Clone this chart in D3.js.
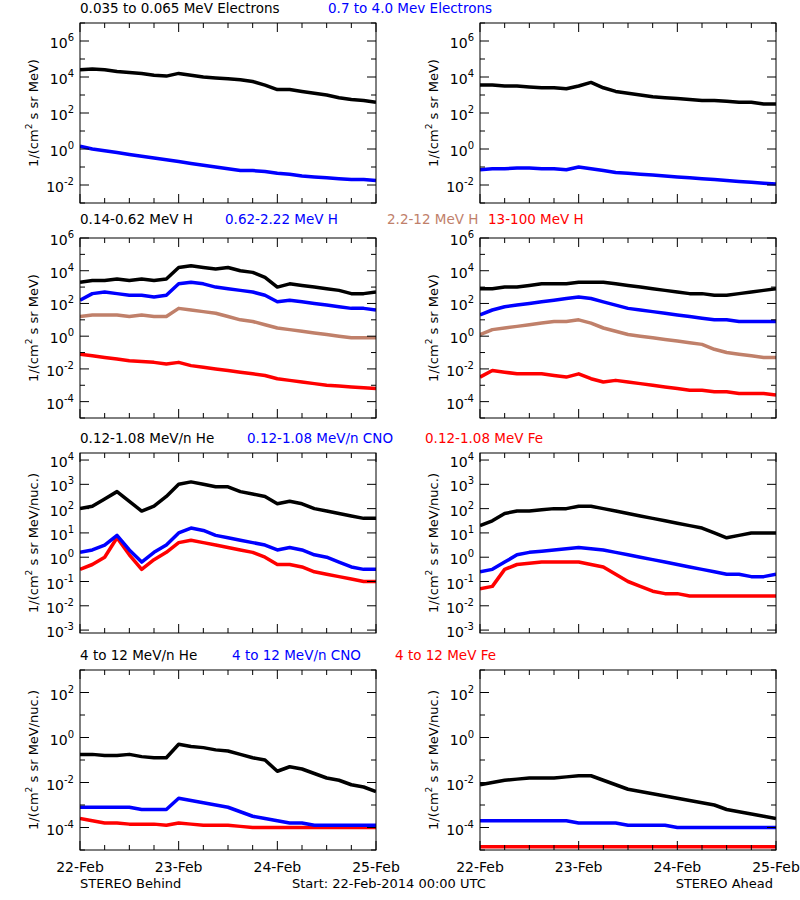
<!DOCTYPE html>
<html><head><meta charset="utf-8">
<script src="https://cdn.jsdelivr.net/npm/d3@7"></script>
<style>body{margin:0;background:#fff}text{font-family:"DejaVu Sans",sans-serif;font-size:13px}</style>
</head><body><svg id="c" width="800" height="900"></svg>
<script>
// time in hours since 22-Feb-2014 00:00, samples every 3 hours
const hours = d3.range(0, 73, 3);
const dayLabels = ["22-Feb","23-Feb","24-Feb","25-Feb"];
const BROWN = "#c0806a";
// log10 values of flux
const bE1 = [4.4,4.45,4.4,4.3,4.25,4.2,4.1,4.05,4.2,4.1,4.0,3.95,3.9,3.85,3.75,3.55,3.3,3.3,3.2,3.1,3.0,2.85,2.75,2.7,2.6];
const bE2 = [0.15,0.0,-0.1,-0.2,-0.3,-0.4,-0.5,-0.6,-0.7,-0.8,-0.9,-1.0,-1.1,-1.2,-1.2,-1.25,-1.35,-1.4,-1.5,-1.55,-1.6,-1.65,-1.7,-1.7,-1.75];
const aE1 = [3.55,3.55,3.5,3.5,3.45,3.4,3.4,3.35,3.5,3.7,3.4,3.2,3.1,3.0,2.9,2.85,2.8,2.75,2.7,2.7,2.65,2.6,2.6,2.5,2.5];
const aE2 = [-1.15,-1.1,-1.1,-1.05,-1.05,-1.1,-1.1,-1.15,-1.0,-1.1,-1.2,-1.3,-1.35,-1.4,-1.45,-1.5,-1.55,-1.6,-1.65,-1.7,-1.75,-1.8,-1.85,-1.9,-1.95];
const bH1 = [3.3,3.4,3.4,3.5,3.4,3.5,3.4,3.5,4.2,4.3,4.2,4.1,4.2,4.0,3.9,3.6,3.0,3.2,3.1,3.0,2.9,2.8,2.6,2.6,2.7];
const bH2 = [2.2,2.6,2.7,2.6,2.5,2.5,2.4,2.5,3.2,3.3,3.2,3.0,2.9,2.8,2.7,2.5,2.1,2.2,2.1,2.0,1.9,1.8,1.7,1.7,1.6];
const bH3 = [1.2,1.3,1.3,1.3,1.2,1.3,1.2,1.2,1.7,1.6,1.5,1.4,1.2,1.0,0.9,0.7,0.5,0.4,0.3,0.2,0.1,0.0,-0.1,-0.1,-0.1];
const bH4 = [-1.1,-1.2,-1.3,-1.4,-1.5,-1.55,-1.6,-1.7,-1.6,-1.8,-1.9,-2.0,-2.1,-2.2,-2.3,-2.4,-2.6,-2.7,-2.8,-2.9,-3.0,-3.05,-3.1,-3.15,-3.2];
const aH1 = [2.9,2.9,3.0,3.0,3.1,3.2,3.2,3.2,3.3,3.3,3.3,3.2,3.1,3.0,2.9,2.8,2.7,2.6,2.6,2.5,2.5,2.6,2.7,2.8,2.9];
const aH2 = [1.3,1.6,1.8,1.9,2.0,2.1,2.2,2.3,2.4,2.3,2.1,1.9,1.7,1.6,1.5,1.4,1.3,1.2,1.1,1.0,1.0,0.9,0.9,0.9,0.9];
const aH3 = [0.1,0.4,0.5,0.6,0.7,0.8,0.9,0.9,1.0,0.8,0.5,0.3,0.1,0.0,-0.1,-0.2,-0.3,-0.4,-0.5,-0.8,-1.0,-1.1,-1.2,-1.3,-1.3];
const aH4 = [-2.5,-2.1,-2.2,-2.3,-2.3,-2.3,-2.4,-2.5,-2.3,-2.6,-2.8,-2.7,-2.8,-2.9,-3.0,-3.1,-3.2,-3.3,-3.3,-3.4,-3.4,-3.5,-3.5,-3.5,-3.6];
const bL1 = [2.0,2.1,2.4,2.7,2.3,1.9,2.1,2.5,3.0,3.1,3.0,2.9,2.9,2.7,2.6,2.5,2.2,2.3,2.2,2.0,1.9,1.8,1.7,1.6,1.6];
const bL2 = [0.2,0.3,0.5,0.9,0.3,-0.2,0.2,0.5,1.0,1.2,1.1,0.9,0.8,0.7,0.6,0.5,0.3,0.4,0.3,0.1,0.0,-0.2,-0.4,-0.5,-0.5];
const bL3 = [-0.5,-0.3,0.0,0.8,0.1,-0.5,-0.1,0.2,0.6,0.7,0.6,0.5,0.4,0.3,0.2,0.0,-0.3,-0.3,-0.4,-0.6,-0.7,-0.8,-0.9,-1.0,-1.0];
const aL1 = [1.3,1.5,1.8,1.9,1.9,1.95,2.0,2.0,2.1,2.1,2.0,1.9,1.8,1.7,1.6,1.5,1.4,1.3,1.2,1.0,0.8,0.9,1.0,1.0,1.0];
const aL2 = [-0.6,-0.5,-0.2,0.1,0.2,0.25,0.3,0.35,0.4,0.35,0.3,0.2,0.1,0.0,-0.1,-0.2,-0.3,-0.4,-0.5,-0.6,-0.7,-0.7,-0.8,-0.8,-0.7];
const aL3 = [-1.3,-1.2,-0.5,-0.3,-0.25,-0.2,-0.2,-0.2,-0.2,-0.3,-0.4,-0.7,-1.0,-1.2,-1.4,-1.5,-1.5,-1.6,-1.6,-1.6,-1.6,-1.6,-1.6,-1.6,-1.6];
const bM1 = [-0.75,-0.75,-0.8,-0.8,-0.75,-0.85,-0.9,-0.9,-0.3,-0.4,-0.45,-0.55,-0.6,-0.75,-0.9,-1.0,-1.5,-1.3,-1.4,-1.6,-1.8,-1.9,-2.1,-2.2,-2.4];
const bM2 = [-3.1,-3.1,-3.1,-3.1,-3.1,-3.2,-3.2,-3.2,-2.7,-2.8,-2.9,-3.0,-3.1,-3.3,-3.5,-3.6,-3.7,-3.8,-3.8,-3.9,-3.9,-3.9,-3.9,-3.9,-3.9];
const bM3 = [-3.6,-3.7,-3.8,-3.8,-3.85,-3.85,-3.85,-3.9,-3.8,-3.85,-3.9,-3.9,-3.9,-3.95,-4.0,-4.0,-4.0,-4.0,-4.0,-4.0,-4.0,-4.0,-4.0,-4.0,-4.0];
const aM1 = [-2.1,-2.0,-1.9,-1.85,-1.8,-1.8,-1.8,-1.75,-1.7,-1.7,-1.9,-2.1,-2.3,-2.4,-2.5,-2.6,-2.7,-2.8,-2.9,-3.0,-3.2,-3.3,-3.4,-3.5,-3.6];
const aM2 = [-3.7,-3.7,-3.7,-3.7,-3.7,-3.7,-3.7,-3.7,-3.8,-3.8,-3.8,-3.8,-3.9,-3.9,-3.9,-3.9,-4.0,-4.0,-4.0,-4.0,-4.0,-4.0,-4.0,-4.0,-4.0];
const aM3 = [-4.85,-4.85,-4.85,-4.85,-4.85,-4.85,-4.85,-4.85,-4.85,-4.85,-4.85,-4.85,-4.85,-4.85,-4.85,-4.85,-4.85,-4.85,-4.85,-4.85,-4.85,-4.85,-4.85,-4.85,-4.85];

const rows = [
 {top:23, dom:[-3,7], labels:[6,4,2,0,-2], ticks:d3.range(-3,8), unit:"MeV)", toff:10,
  titles:[["0.035 to 0.065 MeV Electrons","#000",80],["0.7 to 4.0 Mev Electrons","#0000ff",328]],
  B:[[bE1,"#000"],[bE2,"#0000ff"]], A:[[aE1,"#000"],[aE2,"#0000ff"]]},
 {top:238, dom:[-5,6], labels:[6,4,2,0,-2,-4], ticks:d3.range(-5,7), unit:"MeV)", toff:14,
  titles:[["0.14-0.62 MeV H","#000",80],["0.62-2.22 MeV H","#0000ff",225],["2.2-12 MeV H",BROWN,387],["13-100 MeV H","#ff0000",488]],
  B:[[bH1,"#000"],[bH2,"#0000ff"],[bH3,BROWN],[bH4,"#ff0000"]], A:[[aH1,"#000"],[aH2,"#0000ff"],[aH3,BROWN],[aH4,"#ff0000"]]},
 {top:453, dom:[-3.12,4.29], labels:[4,3,2,1,0,-1,-2,-3], ticks:d3.range(-3,5), unit:"MeV/nuc.)", toff:10,
  titles:[["0.12-1.08 MeV/n He","#000",80],["0.12-1.08 MeV/n CNO","#0000ff",247],["0.12-1.08 MeV Fe","#ff0000",425]],
  B:[[bL3,"#ff0000"],[bL2,"#0000ff"],[bL1,"#000"]], A:[[aL3,"#ff0000"],[aL2,"#0000ff"],[aL1,"#000"]]},
 {top:670, dom:[-5,3], labels:[2,0,-2,-4], ticks:d3.range(-5,4), unit:"MeV/nuc.)", toff:10,
  titles:[["4 to 12 MeV/n He","#000",80],["4 to 12 MeV/n CNO","#0000ff",232],["4 to 12 MeV Fe","#ff0000",395]],
  B:[[bM3,"#ff0000"],[bM2,"#0000ff"],[bM1,"#000"]], A:[[aM3,"#ff0000"],[aM2,"#0000ff"],[aM1,"#000"]]}
];
const svg = d3.select("#c");
const W = 296, H = 180;
rows.forEach((r,ri)=>{
  r.titles.forEach(t=>svg.append("text").attr("x",t[2]).attr("y",r.top-r.toff).attr("fill",t[1]).style("font-size","13.5px").text(t[0]));
  [[80,"B"],[480,"A"]].forEach(([x0,side])=>{
    const g = svg.append("g").attr("transform",`translate(${x0},${r.top})`);
    const x = d3.scaleLinear().domain([0,72]).range([0,W]);
    const y = d3.scaleLinear().domain(r.dom).range([H,0]);
    const cid = `clip${ri}${side}`;
    g.append("clipPath").attr("id",cid).append("rect").attr("width",W).attr("height",H);
    const line = d3.line().x((d,i)=>x(hours[i])).y(d=>y(d));
    r[side].forEach(([arr,col])=>{
      g.append("path").attr("clip-path",`url(#${cid})`).attr("d",line(arr)).attr("fill","none")
       .attr("stroke",col).attr("stroke-width",3.5).attr("stroke-linejoin","round");
    });
    g.append("rect").attr("width",W).attr("height",H).attr("fill","none").attr("stroke","#000");
    r.ticks.forEach(v=>{
      if(v<r.dom[0]||v>r.dom[1]) return;
      const big = r.labels.includes(v), L = big?9:5;
      g.append("line").attr("x1",0).attr("x2",L).attr("y1",y(v)).attr("y2",y(v)).attr("stroke","#000");
      g.append("line").attr("x1",W).attr("x2",W-L).attr("y1",y(v)).attr("y2",y(v)).attr("stroke","#000");
    });
    r.labels.forEach(v=>{
      const t = g.append("text").attr("x",-6).attr("y",y(v)+7).attr("text-anchor","end").style("font-size","14px");
      t.append("tspan").text("10");
      t.append("tspan").attr("dy",-7).style("font-size","10px").text(v);
    });
    d3.range(0,73,6).forEach(h=>{
      const L = h%24===0?9:5;
      g.append("line").attr("x1",x(h)).attr("x2",x(h)).attr("y1",H).attr("y2",H-L).attr("stroke","#000");
      g.append("line").attr("x1",x(h)).attr("x2",x(h)).attr("y1",0).attr("y2",L).attr("stroke","#000");
    });
    if(ri===3){
      dayLabels.forEach((d,i)=>g.append("text").attr("x",x(i*24)).attr("y",H+22).attr("text-anchor","middle").style("font-size","14px").text(d));
    }
    const yl = svg.append("text").attr("transform",`translate(${x0-42},${r.top+H/2}) rotate(-90)`).attr("text-anchor","middle");
    yl.append("tspan").text("1/(cm");
    yl.append("tspan").attr("dy",-6).style("font-size","9px").text("2");
    yl.append("tspan").attr("dy",6).text(" s sr "+r.unit);
  });
});
svg.append("text").attr("x",80).attr("y",888).text("STEREO Behind");
svg.append("text").attr("x",292).attr("y",888).text("Start: 22-Feb-2014 00:00 UTC");
svg.append("text").attr("x",773).attr("y",888).attr("text-anchor","end").text("STEREO Ahead");
</script></body></html>
